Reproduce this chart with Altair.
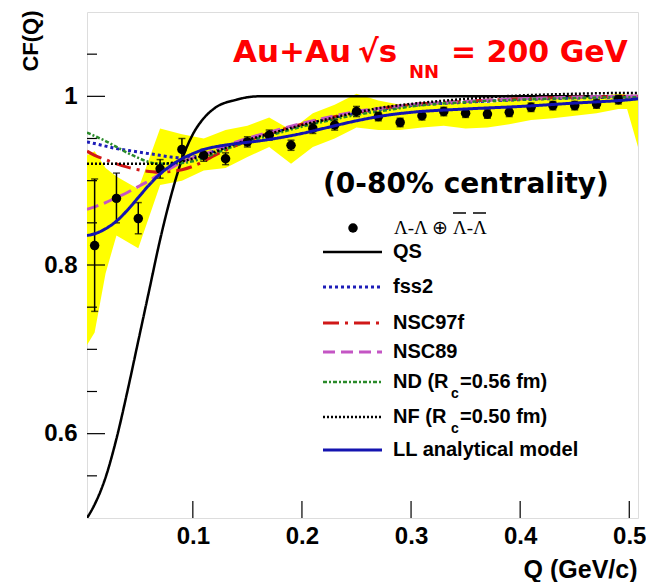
import altair as alt
import pandas as pd

# ---------------- data ----------------
q_pts = [0.01, 0.03, 0.05, 0.07, 0.09, 0.11, 0.13, 0.15, 0.17, 0.19, 0.21, 0.23, 0.25,
         0.27, 0.29, 0.31, 0.33, 0.35, 0.37, 0.39, 0.41, 0.43, 0.45, 0.47, 0.49]
cf_pts = [0.823, 0.879, 0.855, 0.914, 0.937, 0.930, 0.926, 0.946, 0.954, 0.942, 0.962, 0.966, 0.982,
          0.976, 0.969, 0.977, 0.982, 0.980, 0.979, 0.981, 0.987, 0.989, 0.989, 0.991, 0.996]
stat_lo = [0.745, 0.850, 0.837, 0.903, 0.924, 0.923, 0.919, 0.940, 0.948, 0.936, 0.956, 0.960, 0.976,
           0.971, 0.964, 0.972, 0.977, 0.975, 0.974, 0.976, 0.982, 0.984, 0.984, 0.986, 0.991]
stat_hi = [0.902, 0.909, 0.874, 0.925, 0.950, 0.937, 0.933, 0.952, 0.960, 0.948, 0.968, 0.972, 0.988,
           0.981, 0.974, 0.982, 0.987, 0.985, 0.984, 0.986, 0.992, 0.994, 0.994, 0.996, 1.001]

band_q = [0.003, 0.01, 0.02, 0.03, 0.05, 0.07, 0.09, 0.11, 0.13, 0.15, 0.17, 0.19, 0.21, 0.23,
          0.25, 0.27, 0.29, 0.31, 0.33, 0.35, 0.37, 0.39, 0.41, 0.43, 0.45, 0.47, 0.49, 0.498, 0.508]
band_lo = [0.705, 0.720, 0.790, 0.835, 0.820, 0.895, 0.900, 0.912, 0.915, 0.928, 0.940, 0.920, 0.940,
           0.950, 0.963, 0.960, 0.960, 0.963, 0.965, 0.962, 0.963, 0.967, 0.972, 0.974, 0.977, 0.980,
           0.985, 0.985, 0.940]
band_hi = [0.930, 0.935, 0.915, 0.905, 0.890, 0.962, 0.955, 0.950, 0.960, 0.965, 0.975, 0.960, 0.980,
           0.990, 1.003, 0.995, 0.990, 0.990, 0.993, 0.992, 0.992, 0.995, 0.997, 0.998, 0.999, 1.000,
           1.003, 1.002, 0.998]

q_model = [0.003, 0.01, 0.02, 0.03, 0.04, 0.05, 0.06, 0.07, 0.08, 0.09, 0.10, 0.11, 0.12, 0.14,
           0.16, 0.18, 0.20, 0.22, 0.25, 0.28, 0.30, 0.35, 0.40, 0.45, 0.50, 0.508]
cf_qs = [0.500, 0.516, 0.548, 0.594, 0.650, 0.710, 0.770, 0.830, 0.882, 0.925, 0.955, 0.974, 0.986,
         0.996, 1.000, 1.000, 1.000, 1.000, 1.000, 1.000, 1.000, 1.000, 1.000, 1.000, 1.000, 1.000]
cf_fss2 = [0.946, 0.944, 0.941, 0.938, 0.936, 0.934, 0.932, 0.930, 0.928, 0.927, 0.928, 0.931, 0.935,
           0.944, 0.952, 0.959, 0.966, 0.972, 0.980, 0.986, 0.989, 0.993, 0.996, 0.998, 0.999, 0.999]
cf_nsc97f = [0.935, 0.930, 0.925, 0.920, 0.916, 0.913, 0.911, 0.910, 0.911, 0.913, 0.917, 0.923, 0.930,
             0.942, 0.952, 0.960, 0.967, 0.973, 0.981, 0.987, 0.990, 0.994, 0.997, 0.999, 1.000, 1.000]
cf_nsc89 = [0.866, 0.869, 0.874, 0.880, 0.886, 0.893, 0.900, 0.908, 0.915, 0.922, 0.927, 0.931, 0.936,
            0.946, 0.954, 0.961, 0.968, 0.974, 0.982, 0.987, 0.990, 0.994, 0.997, 0.999, 1.000, 1.000]
cf_nd = [0.957, 0.953, 0.947, 0.940, 0.933, 0.927, 0.922, 0.920, 0.920, 0.921, 0.923, 0.927, 0.932,
         0.942, 0.950, 0.957, 0.964, 0.970, 0.978, 0.984, 0.988, 0.993, 0.996, 0.998, 0.999, 0.999]
cf_nf = [0.920, 0.920, 0.920, 0.920, 0.920, 0.920, 0.920, 0.920, 0.921, 0.923, 0.926, 0.930, 0.934,
         0.944, 0.952, 0.959, 0.966, 0.972, 0.981, 0.988, 0.991, 0.997, 1.001, 1.003, 1.004, 1.004]
cf_ll = [0.835, 0.837, 0.843, 0.852, 0.865, 0.880, 0.895, 0.908, 0.918, 0.926, 0.932, 0.937, 0.940,
         0.944, 0.947, 0.951, 0.956, 0.962, 0.971, 0.978, 0.981, 0.985, 0.988, 0.992, 0.996, 0.997]

x_ticks = [0.1, 0.2, 0.3, 0.4, 0.5]
y_major = [0.6, 0.8, 1.0]
y_minor = [0.55, 0.65, 0.7, 0.75, 0.85, 0.9, 0.95, 1.05]

model_names = ["QS", "fss2", "NSC97f", "NSC89", "ND", "NF", "LL"]
model_values = [cf_qs, cf_fss2, cf_nsc97f, cf_nsc89, cf_nd, cf_nf, cf_ll]

# ---------------- layout / style ----------------
W, H = 551, 506
L, T = 87, 12
SANS = "Liberation Sans"
xs = alt.Scale(domain=[0.003, 0.508], nice=False, zero=False)
ys = alt.Scale(domain=[0.5, 1.1], nice=False, zero=False)

styles = {
    "QS": dict(color="black", dash=[1, 0], width=2.5),
    "fss2": dict(color="#1d1db8", dash=[3, 3], width=3),
    "NSC97f": dict(color="#d01818", dash=[16, 6, 3, 6], width=3),
    "NSC89": dict(color="#c455c4", dash=[12, 6], width=3),
    "ND": dict(color="#2a8a2a", dash=[4, 2, 2, 2], width=2.5),
    "NF": dict(color="black", dash=[2, 2], width=2.5),
    "LL": dict(color="#1414b0", dash=[1, 0], width=3),
}

band_df = pd.DataFrame({"q": band_q, "lo": band_lo, "hi": band_hi})
pts_df = pd.DataFrame({"q": q_pts, "cf": cf_pts, "lo": stat_lo, "hi": stat_hi})

band = alt.Chart(band_df).mark_area(color="#ffff00", opacity=1, clip=True).encode(
    x=alt.X("q:Q", scale=xs, axis=alt.Axis(
        values=x_ticks, format=".1f", tickSize=0, domain=False, grid=False,
        labelFont=SANS, labelFontWeight="bold", labelFontSize=24, labelColor="black",
        labelPadding=6, labelFlush=False,
        title="Q (GeV/c)", titleFont=SANS, titleFontWeight="bold", titleFontSize=25,
        titleColor="black", titleX=550, titleY=59, titleAlign="right", titleBaseline="alphabetic")),
    y=alt.Y("lo:Q", scale=ys, axis=alt.Axis(
        values=y_major, format=".1~f", tickSize=0, domain=False, grid=False,
        labelFont=SANS, labelFontWeight="bold", labelFontSize=24, labelColor="black",
        labelPadding=10, labelFlush=False,
        title="CF(Q)", titleFont=SANS, titleFontWeight="bold", titleFontSize=22,
        titleColor="black", titleX=-57, titleY=-2, titleAngle=-90, titleAlign="right",
        titleBaseline="middle")),
    y2="hi:Q",
)

layers = [band]

# tick marks drawn inward
layers.append(alt.Chart(pd.DataFrame({"q": x_ticks})).mark_rule(color="black", strokeWidth=1.2).encode(
    x=alt.X("q:Q", scale=xs), y=alt.value(H), y2=alt.value(H - 17)))
layers.append(alt.Chart(pd.DataFrame({"cf": y_major})).mark_rule(color="black", strokeWidth=1.2).encode(
    y=alt.Y("cf:Q", scale=ys), x=alt.value(0), x2=alt.value(18)))
layers.append(alt.Chart(pd.DataFrame({"cf": y_minor})).mark_rule(color="black", strokeWidth=1.2).encode(
    y=alt.Y("cf:Q", scale=ys), x=alt.value(0), x2=alt.value(10)))

def model_layer(name, vals):
    s = styles[name]
    df = pd.DataFrame({"q": q_model, "cf": vals})
    return alt.Chart(df).mark_line(color=s["color"], strokeDash=s["dash"], strokeWidth=s["width"],
                                   interpolate="monotone", clip=True).encode(
        x=alt.X("q:Q", scale=xs), y=alt.Y("cf:Q", scale=ys))

for name, vals in zip(model_names, model_values):
    if name != "LL":
        layers.append(model_layer(name, vals))

# data points
layers.append(alt.Chart(pts_df).mark_rule(color="black", strokeWidth=1.5).encode(
    x=alt.X("q:Q", scale=xs), y=alt.Y("lo:Q", scale=ys), y2="hi:Q"))
layers.append(alt.Chart(pts_df).mark_tick(color="black", thickness=1.5, size=7, orient="horizontal").encode(
    x=alt.X("q:Q", scale=xs), y=alt.Y("lo:Q", scale=ys)))
layers.append(alt.Chart(pts_df).mark_tick(color="black", thickness=1.5, size=7, orient="horizontal").encode(
    x=alt.X("q:Q", scale=xs), y=alt.Y("hi:Q", scale=ys)))
layers.append(alt.Chart(pts_df).mark_point(filled=True, color="black", size=90, opacity=1).encode(
    x=alt.X("q:Q", scale=xs), y=alt.Y("cf:Q", scale=ys)))

layers.append(model_layer("LL", cf_ll))

# ---------------- annotations & legend (pixel positions, page coords) ----------------
def text_at(x, y, txt, size, font=SANS, color="black", align="left", baseline="alphabetic", weight="bold"):
    return alt.Chart(pd.DataFrame({"t": [txt]})).mark_text(
        font=font, fontSize=size, fontWeight=weight, color=color, align=align, baseline=baseline
    ).encode(x=alt.value(x - L), y=alt.value(y - T), text="t:N")

def hline(x0, x1, y, color="black", width=1.5, dash=None):
    kw = dict(color=color, strokeWidth=width)
    if dash:
        kw["strokeDash"] = dash
    return alt.Chart(pd.DataFrame({"k": [0]})).mark_rule(**kw).encode(
        x=alt.value(x0 - L), x2=alt.value(x1 - L), y=alt.value(y - T))

RED = "#ff0000"
layers += [
    text_at(233, 62, "Au+Au", 31, font="DejaVu Sans", color=RED),
    text_at(358, 62, "\u221as", 31, font="DejaVu Sans", color=RED),
    text_at(409, 78, "NN", 18, font="DejaVu Sans", color=RED),
    text_at(451, 62, "= 200 GeV", 30, font="DejaVu Sans", color=RED),
    text_at(323, 193, "(0-80% centrality)", 28, font="DejaVu Sans"),
]

# legend
rows_y = {"pts": 228, "QS": 252, "fss2": 287, "NSC97f": 323, "NSC89": 352, "ND": 382, "NF": 417, "LL": 450}
LX0, LX1, TX = 323, 382, 393

layers.append(alt.Chart(pd.DataFrame({"k": [0]})).mark_point(filled=True, color="black", size=90, opacity=1).encode(
    x=alt.value(353 - L), y=alt.value(rows_y["pts"] - T)))
# Λ-Λ ⊕ anti-Λ-anti-Λ
layers.append(text_at(394, 234, "\u039b-\u039b \u2295", 19, font="Liberation Serif", weight="normal"))
layers.append(text_at(453, 234, "\u039b-\u039b", 19, font="Liberation Serif", weight="normal"))
layers.append(hline(453, 466, 213, width=1.5))
layers.append(hline(473, 486, 213, width=1.5))

for name in model_names:
    s = styles[name]
    layers.append(hline(LX0, LX1, rows_y[name], color=s["color"], width=s["width"], dash=s["dash"]))

simple_labels = {"QS": "QS", "fss2": "fss2", "NSC97f": "NSC97f", "NSC89": "NSC89", "LL": "LL analytical model"}
for name, lab in simple_labels.items():
    layers.append(text_at(TX, rows_y[name], lab, 20, baseline="middle"))

for name, head, tail in [("ND", "ND (R", "=0.56 fm)"), ("NF", "NF (R", "=0.50 fm)")]:
    yy = rows_y[name]
    layers.append(text_at(TX, yy, head, 20, baseline="middle"))
    layers.append(text_at(451, yy + 12, "c", 14, baseline="middle"))
    layers.append(text_at(460, yy, tail, 20, baseline="middle"))

chart = alt.layer(*layers).properties(
    width=W, height=H,
    autosize=alt.AutoSizeParams(type="none"),
    padding={"left": L, "top": T, "right": 646 - L - W, "bottom": 582 - T - H},
).configure_view(stroke="black", strokeWidth=3).configure(background="white")

chart.save("out.html", embed_options={"renderer": "svg", "actions": False})
